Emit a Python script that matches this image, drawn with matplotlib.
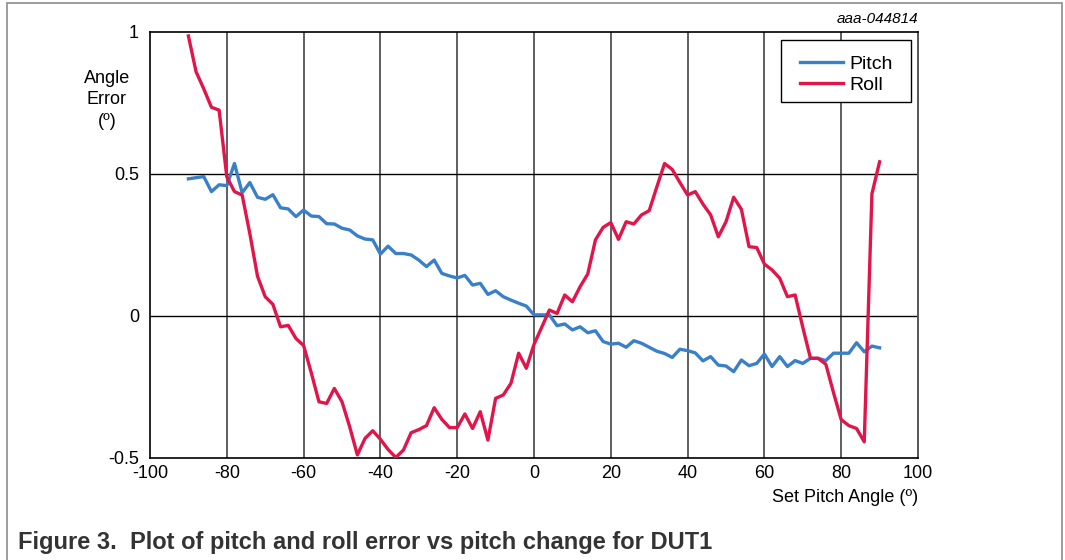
import numpy as np
import matplotlib
matplotlib.use("Agg")
import matplotlib.pyplot as plt
from matplotlib.patches import Rectangle

plt.rcParams['font.family'] = ['Liberation Sans', 'DejaVu Sans']
plt.rcParams['axes.unicode_minus'] = False

# set pitch angle (deg), 2 deg steps
ANGLES = list(range(-90, 91, 2))

PITCH_ERR = [
    0.483, 0.487, 0.491, 0.438, 0.462, 0.459, 0.537, 0.434, 0.470, 0.418,
    0.411, 0.427, 0.381, 0.377, 0.350, 0.373, 0.352, 0.350, 0.325, 0.324,
    0.309, 0.303, 0.282, 0.271, 0.268, 0.218, 0.246, 0.220, 0.220, 0.215,
    0.197, 0.174, 0.197, 0.150, 0.141, 0.134, 0.143, 0.109, 0.115, 0.076,
    0.089, 0.068, 0.056, 0.045, 0.035, 0.004, 0.004, 0.004, -0.034, -0.028,
    -0.049, -0.038, -0.059, -0.052, -0.090, -0.099, -0.096, -0.110, -0.087, -0.096,
    -0.110, -0.124, -0.132, -0.146, -0.117, -0.122, -0.130, -0.158, -0.143, -0.173,
    -0.176, -0.196, -0.155, -0.175, -0.167, -0.134, -0.178, -0.143, -0.178, -0.157,
    -0.167, -0.149, -0.149, -0.157, -0.131, -0.131, -0.131, -0.094, -0.126, -0.106,
    -0.112,
]

ROLL_ERR = [
    0.986, 0.860, 0.800, 0.735, 0.725, 0.490, 0.438, 0.426, 0.290, 0.140,
    0.068, 0.041, -0.038, -0.033, -0.079, -0.104, -0.200, -0.302, -0.308, -0.255,
    -0.302, -0.390, -0.489, -0.431, -0.404, -0.434, -0.470, -0.498, -0.472, -0.411,
    -0.400, -0.386, -0.323, -0.364, -0.393, -0.393, -0.345, -0.396, -0.337, -0.437,
    -0.290, -0.278, -0.237, -0.131, -0.184, -0.100, -0.040, 0.021, 0.009, 0.074,
    0.050, 0.103, 0.148, 0.268, 0.312, 0.329, 0.270, 0.332, 0.324, 0.356,
    0.371, 0.455, 0.537, 0.516, 0.470, 0.426, 0.438, 0.394, 0.356, 0.279,
    0.332, 0.418, 0.376, 0.244, 0.241, 0.183, 0.162, 0.133, 0.068, 0.074,
    -0.040, -0.149, -0.149, -0.170, -0.270, -0.365, -0.386, -0.396, -0.443, 0.430,
    0.543,
]

X_TICKS = [-100, -80, -60, -40, -20, 0, 20, 40, 60, 80, 100]
Y_TICKS = [-0.5, 0, 0.5, 1]
Y_TICK_LABELS = ["-0.5", "0", "0.5", "1"]

PITCH_COLOR = "#3a80c9"
ROLL_COLOR = "#e2154b"

W, H = 1065, 560


def px_box(x0, y0, x1, y1):
    # pixel box (top-left origin) -> figure fraction rect
    return (x0 / W, 1 - y1 / H, (x1 - x0) / W, (y1 - y0) / H)


def main():
    fig = plt.figure(figsize=(W / 100, H / 100), dpi=100)

    # outer frame
    fb = px_box(6.5, 2.5, 1061.5, 565)
    fig.patches.append(Rectangle(fb[:2], fb[2], fb[3],
                                 transform=fig.transFigure, fill=False,
                                 edgecolor="#8c8c8c", linewidth=1.2))

    ax = fig.add_axes(px_box(150, 32, 918, 458))

    ax.plot(ANGLES, PITCH_ERR, color=PITCH_COLOR, linewidth=2.4, label="Pitch", zorder=3)
    ax.plot(ANGLES, ROLL_ERR, color=ROLL_COLOR, linewidth=2.4, label="Roll", zorder=4)

    ax.set_xlim(-100, 100)
    ax.set_ylim(-0.5, 1)
    ax.set_xticks(X_TICKS)
    ax.set_yticks(Y_TICKS)
    ax.set_yticklabels(Y_TICK_LABELS)
    ax.tick_params(length=0, labelsize=13, pad=8, colors="black")
    ax.tick_params(axis="x", pad=5)

    for xv in X_TICKS[1:-1]:
        ax.axvline(xv, color="#444444", linewidth=1.2, zorder=1)
    for yv in Y_TICKS[1:-1]:
        ax.axhline(yv, color="black", linewidth=1.0, zorder=1)

    for side in ["left", "bottom", "top"]:
        ax.spines[side].set_color("black")
        ax.spines[side].set_linewidth(1.2)
    ax.spines["right"].set_color("#555555")
    ax.spines["right"].set_linewidth(1.4)

    # legend box drawn by hand, legend itself frameless
    lb = px_box(781, 40, 911, 102)
    ax.add_patch(Rectangle(lb[:2], lb[2], lb[3], transform=fig.transFigure,
                           facecolor="white", edgecolor="black", linewidth=1.0,
                           zorder=5, clip_on=False))
    leg = ax.legend(loc="upper left", bbox_to_anchor=(800 / W, 1 - 55 / H),
                    bbox_transform=fig.transFigure, fontsize=14, handlelength=2.2,
                    handletextpad=0.36, labelspacing=0.18, borderpad=0,
                    frameon=False, borderaxespad=0)
    leg.set_zorder(6)

    fig.text(107 / W, 1 - 100 / H, "Angle\nError\n(º)", ha="center", va="center",
             fontsize=13, linespacing=1.35)
    fig.text(918 / W, 1 - 497 / H, "Set Pitch Angle (º)", ha="right", va="center",
             fontsize=13)
    fig.text(918 / W, 1 - 19 / H, "aaa-044814", ha="right", va="center",
             fontsize=11, style="italic")
    fig.text(18 / W, 1 - 543 / H,
             "Figure 3.  Plot of pitch and roll error vs pitch change for DUT1",
             ha="left", va="center", fontsize=17, fontweight="bold", color="#333333")

    fig.savefig("out.png", dpi=100)
    plt.close(fig)


if __name__ == "__main__":
    main()
